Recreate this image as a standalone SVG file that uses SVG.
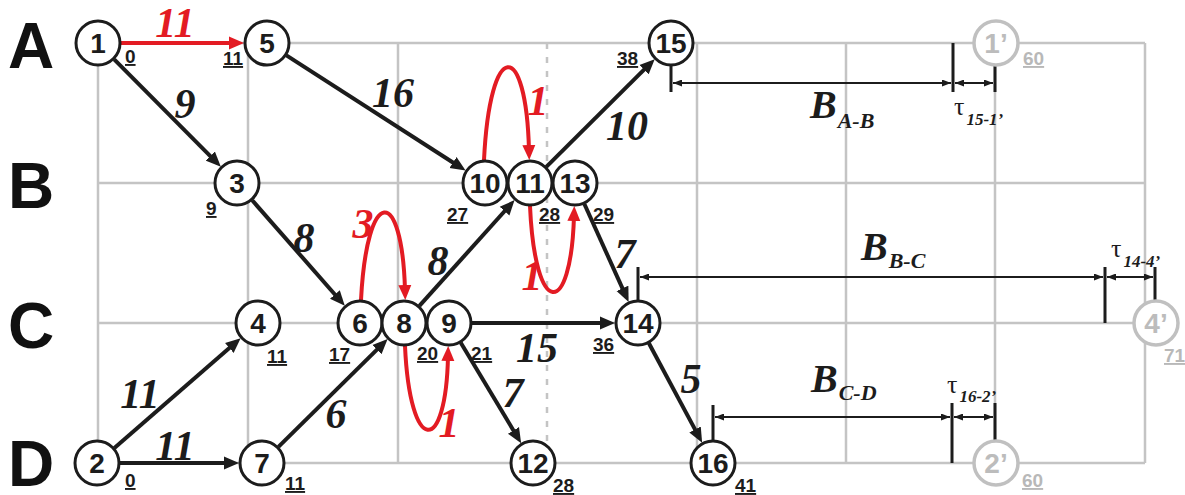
<svg xmlns="http://www.w3.org/2000/svg" width="1185" height="495" viewBox="0 0 1185 495">
<style>
.grid{stroke:#c4c4c4;stroke-width:2.5;fill:none}
.dash{stroke:#c4c4c4;stroke-width:2.5;stroke-dasharray:6 8;fill:none}
.node circle{fill:#fff;stroke:#1c1c1c;stroke-width:3}
.node text{font-family:"Liberation Sans",Arial,sans-serif;font-weight:bold;font-size:28px;fill:#1c1c1c;text-anchor:middle}
.ghost circle{stroke:#c0c0c0;stroke-width:3.5}
.ghost text{fill:#bcbcbc}
.t{font-family:"Liberation Sans",Arial,sans-serif;font-weight:bold;font-size:19px;fill:#1c1c1c;text-decoration:underline}
.tg{fill:#b8b8b8}
.row{font-family:"Liberation Sans",Arial,sans-serif;font-weight:bold;font-size:64px;fill:#111}
.e{stroke:#1c1c1c;stroke-width:4;fill:none;marker-end:url(#ah)}
.r{stroke:#e31b23;stroke-width:4;fill:none;marker-end:url(#ahr)}
.lab{font-family:"Liberation Serif","Times New Roman",serif;font-weight:bold;font-style:italic;font-size:42px;fill:#1c1c1c;text-anchor:middle}
.lr{fill:#e31b23}
.dim{stroke:#1c1c1c;stroke-width:2;fill:none;marker-start:url(#sa);marker-end:url(#sa)}
.tick{stroke:#1c1c1c;stroke-width:3}
.B{font-family:"Liberation Serif","Times New Roman",serif;font-weight:bold;font-style:italic;font-size:40px;fill:#1c1c1c}
.sub{font-size:22px}
.tau{font-family:"Liberation Serif","Times New Roman",serif;font-size:26px;fill:#1c1c1c}
.tsub{font-size:17px;font-weight:bold;font-style:italic}
</style>
<defs>
<marker id="ah" markerUnits="userSpaceOnUse" markerWidth="16" markerHeight="14" refX="5" refY="7" orient="auto"><path d="M0,0.5 L15,7 L0,13.5 z" fill="#1c1c1c"/></marker>
<marker id="ahr" markerUnits="userSpaceOnUse" markerWidth="16" markerHeight="14" refX="5" refY="7" orient="auto"><path d="M0,0.5 L15,7 L0,13.5 z" fill="#e31b23"/></marker>
<marker id="sa" markerUnits="userSpaceOnUse" markerWidth="10" markerHeight="7" refX="9" refY="3.5" orient="auto-start-reverse"><path d="M0,0 L9,3.5 L0,7 z" fill="#1c1c1c"/></marker>
</defs>

<g id="grid">
<path class="grid" d="M98,43 H1145 M98,183 H1145 M98,323 H1145 M98,463 H1145 M98,43 V463 M248,43 V463 M398,43 V463 M697,43 V463 M846,43 V463 M995,43 V463 M1145,43 V463"/>
<path class="dash" d="M547,43 V463"/>
</g>

<g id="rows">
<text class="row" x="8" y="68">A</text>
<text class="row" x="8" y="208">B</text>
<text class="row" x="8" y="348">C</text>
<text class="row" x="8" y="486">D</text>
</g>

<g id="connectors">
<path class="r" d="M121,43 L234,43"/>
<path class="e" d="M114.2,59.3 L213.8,159.6"/>
<path class="e" d="M286.4,55.4 L457.2,165.2"/>
<path class="e" d="M252.2,200.3 L338.2,298.2"/>
<path class="e" d="M114.4,447.9 L233.1,344.7"/>
<path class="e" d="M120,463 L229,463"/>
<path class="e" d="M278.4,446.8 L380.5,346.1"/>
<path class="e" d="M419.4,305.9 L507.9,207.5"/>
<path class="e" d="M546.3,166.8 L647.6,66.2"/>
<path class="e" d="M584.4,204 L624.5,292.9"/>
<path class="e" d="M472,323 L605,323"/>
<path class="e" d="M460.8,342.7 L516,434.7"/>
<path class="e" d="M648.9,343.3 L697.4,433.9"/>
<path class="r" d="M361,300 C367,185 402,185 405,290"/>
<path class="r" d="M405,346 C410,456 446,456 448,356"/>
<path class="r" d="M484,160 C490,38 526,38 529,150"/>
<path class="r" d="M530,206 C535,319 571,319 574,216"/>
</g>

<g id="edge-labels">
<text class="lab lr" x="175" y="37">11</text>
<text class="lab" x="185" y="118">9</text>
<text class="lab" x="393" y="107">16</text>
<text class="lab lr" x="363" y="238">3</text>
<text class="lab" x="304" y="252">8</text>
<text class="lab" x="438" y="275">8</text>
<text class="lab lr" x="538" y="115">1</text>
<text class="lab" x="627" y="140">10</text>
<text class="lab lr" x="532" y="290">1</text>
<text class="lab" x="625" y="268">7</text>
<text class="lab" x="537" y="362">15</text>
<text class="lab lr" x="449" y="437">1</text>
<text class="lab" x="513" y="407">7</text>
<text class="lab" x="691" y="393">5</text>
<text class="lab" x="140" y="408">11</text>
<text class="lab" x="175" y="460">11</text>
<text class="lab" x="336" y="428">6</text>
</g>

<g id="dimensions">
<path class="tick" d="M671,65 V92 M953,43 V92 M995,65 V92"/>
<path class="dim" d="M673,83 H951"/>
<path class="dim" d="M955,83 H993"/>
<text class="B" x="810" y="118">B<tspan class="sub" dx="1" dy="10">A-B</tspan></text>
<text class="tau" x="954" y="115">τ<tspan class="tsub" dx="2" dy="10">15-1’</tspan></text>

<path class="tick" d="M638,267 V300 M1105,267 V323 M1155,267 V300"/>
<path class="dim" d="M640,277 H1103"/>
<path class="dim" d="M1107,277 H1153"/>
<text class="B" x="861" y="260">B<tspan class="sub" dx="1" dy="8">B-C</tspan></text>
<text class="tau" x="1111" y="257">τ<tspan class="tsub" dx="2" dy="10">14-4’</tspan></text>

<path class="tick" d="M713,405 V441 M952,403 V463 M995,403 V441"/>
<path class="dim" d="M715,417 H950"/>
<path class="dim" d="M954,417 H993"/>
<text class="B" x="811" y="392">B<tspan class="sub" dx="1" dy="8">C-D</tspan></text>
<text class="tau" x="947" y="393">τ<tspan class="tsub" dx="2" dy="9">16-2’</tspan></text>
</g>

<g id="n1" class="node"><circle cx="98" cy="43" r="22"/><text x="98" y="53">1</text></g>
<g id="n5" class="node"><circle cx="267" cy="43" r="22"/><text x="267" y="53">5</text></g>
<g id="n3" class="node"><circle cx="237" cy="183" r="22"/><text x="237" y="193">3</text></g>
<g id="n4" class="node"><circle cx="258" cy="323" r="22"/><text x="258" y="333">4</text></g>
<g id="n2" class="node"><circle cx="97" cy="463" r="22"/><text x="97" y="473">2</text></g>
<g id="n7" class="node"><circle cx="262" cy="463" r="22"/><text x="262" y="473">7</text></g>
<g id="n6" class="node"><circle cx="360" cy="323" r="22"/><text x="360" y="333">6</text></g>
<g id="n8" class="node"><circle cx="404" cy="323" r="22"/><text x="404" y="333">8</text></g>
<g id="n9" class="node"><circle cx="449" cy="323" r="22"/><text x="449" y="333">9</text></g>
<g id="n10" class="node"><circle cx="485" cy="183" r="22"/><text x="485" y="193">10</text></g>
<g id="n11" class="node"><circle cx="530" cy="183" r="22"/><text x="530" y="193">11</text></g>
<g id="n13" class="node"><circle cx="575" cy="183" r="22"/><text x="575" y="193">13</text></g>
<g id="n15" class="node"><circle cx="671" cy="43" r="22"/><text x="671" y="53">15</text></g>
<g id="n14" class="node"><circle cx="638" cy="323" r="22"/><text x="638" y="333">14</text></g>
<g id="n12" class="node"><circle cx="533" cy="463" r="22"/><text x="533" y="473">12</text></g>
<g id="n16" class="node"><circle cx="713" cy="463" r="22"/><text x="713" y="473">16</text></g>
<g id="n1p" class="node ghost"><circle cx="996" cy="43" r="22"/><text x="996" y="53">1’</text></g>
<g id="n4p" class="node ghost"><circle cx="1156" cy="323" r="22"/><text x="1156" y="333">4’</text></g>
<g id="n2p" class="node ghost"><circle cx="996" cy="463" r="22"/><text x="996" y="473">2’</text></g>

<g id="times">
<text class="t" x="125" y="63">0</text>
<text class="t" x="223" y="65">11</text>
<text class="t" x="206" y="215">9</text>
<text class="t" x="617" y="65">38</text>
<text class="t tg" x="1023" y="65">60</text>
<text class="t" x="447" y="221">27</text>
<text class="t" x="539" y="221">28</text>
<text class="t" x="593" y="221">29</text>
<text class="t" x="593" y="351">36</text>
<text class="t" x="267" y="363">11</text>
<text class="t" x="329" y="361">17</text>
<text class="t" x="417" y="360">20</text>
<text class="t" x="471" y="360">21</text>
<text class="t" x="125" y="487">0</text>
<text class="t" x="285" y="490">11</text>
<text class="t" x="553" y="492">28</text>
<text class="t" x="735" y="492">41</text>
<text class="t tg" x="1164" y="362">71</text>
<text class="t tg" x="1022" y="487">60</text>
</g>
</svg>
